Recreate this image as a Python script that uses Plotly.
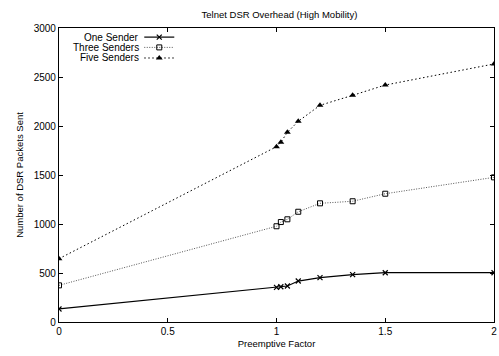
import plotly.graph_objects as go

x_one = [0, 1.0, 1.02, 1.05, 1.1, 1.2, 1.35, 1.5, 2.0]
y_one = [133, 354, 360, 367, 418, 452, 483, 503, 503]

x_three = [0, 1.0, 1.02, 1.05, 1.1, 1.2, 1.35, 1.5, 2.0]
y_three = [374, 977, 1020, 1048, 1125, 1211, 1232, 1309, 1476]

x_five = [0, 1.0, 1.02, 1.05, 1.1, 1.2, 1.35, 1.5, 2.0]
y_five = [646, 1789, 1834, 1936, 2048, 2211, 2313, 2418, 2633]

series_names = ["One Sender", "Three Senders", "Five Senders"]

x_ticks = [0, 0.5, 1, 1.5, 2]
x_ticklabels = ["0", "0.5", "1", "1.5", "2"]
y_ticks = [0, 500, 1000, 1500, 2000, 2500, 3000]

font = "Liberation Sans, Arial, sans-serif"

styles = [
    dict(line=dict(color="black", width=1.2),
         marker=dict(symbol="x-thin", size=5, line=dict(color="black", width=1.2))),
    dict(line=dict(color="#555555", width=1, dash="1px,1.5px"),
         marker=dict(symbol="square-open", size=5, color="black", line=dict(color="black", width=1))),
    dict(line=dict(color="black", width=1, dash="1.5px,2.5px"),
         marker=dict(symbol="triangle-up", size=6, color="black")),
]

fig = go.Figure()
for name, xs, ys, st in zip(series_names, [x_one, x_three, x_five], [y_one, y_three, y_five], styles):
    fig.add_trace(go.Scatter(x=xs, y=ys, name=name, mode="lines+markers",
                             line=st["line"], marker=st["marker"], showlegend=False))

# custom gnuplot-style key (text right-aligned, sample to the right)
key_rows = [0.969, 0.934, 0.898]
key_x0, key_x1, key_text_x = 0.196, 0.265, 0.189
for name, ky, st in zip(series_names, key_rows, styles):
    fig.add_trace(go.Scatter(x=[key_x0, key_x1], y=[ky, ky], mode="lines", line=st["line"],
                             xaxis="x2", yaxis="y2", showlegend=False, hoverinfo="skip"))
    fig.add_trace(go.Scatter(x=[(key_x0 + key_x1) / 2], y=[ky], mode="markers", marker=st["marker"],
                             xaxis="x2", yaxis="y2", showlegend=False, hoverinfo="skip"))
    fig.add_annotation(x=key_text_x, y=ky, xref="x2", yref="y2", text=name, showarrow=False,
                       xanchor="right", yanchor="middle", font=dict(family=font, size=10, color="black"))

fig.update_layout(
    width=499, height=356,
    margin=dict(l=59, r=2, t=28, b=34),
    paper_bgcolor="white", plot_bgcolor="white",
    font=dict(family=font, size=10, color="black"),
    title=dict(text="Telnet DSR Overhead (High Mobility)", x=0.56, xanchor="center",
               y=0.958, yanchor="middle", font=dict(family=font, size=9.5, color="black")),
    showlegend=False,
    xaxis=dict(range=[0, 2], tickvals=x_ticks, ticktext=x_ticklabels,
               showgrid=False, zeroline=False, showline=True, linecolor="black", linewidth=1.2,
               mirror="ticks", ticks="inside", ticklen=4, tickcolor="black",
               ticklabeloverflow="allow", tickfont=dict(size=10),
               title=dict(text="Preemptive Factor", standoff=4, font=dict(size=9.5))),
    yaxis=dict(range=[0, 3000], tickvals=y_ticks,
               showgrid=False, zeroline=False, showline=True, linecolor="black", linewidth=1.2,
               mirror="ticks", ticks="inside", ticklen=4, tickcolor="black", tickfont=dict(size=10),
               title=dict(text="Number of DSR Packets Sent", standoff=8, font=dict(size=9.5))),
    xaxis2=dict(range=[0, 1], overlaying="x", visible=False, fixedrange=True),
    yaxis2=dict(range=[0, 1], overlaying="y", visible=False, fixedrange=True),
)

fig.write_html("out.html")
